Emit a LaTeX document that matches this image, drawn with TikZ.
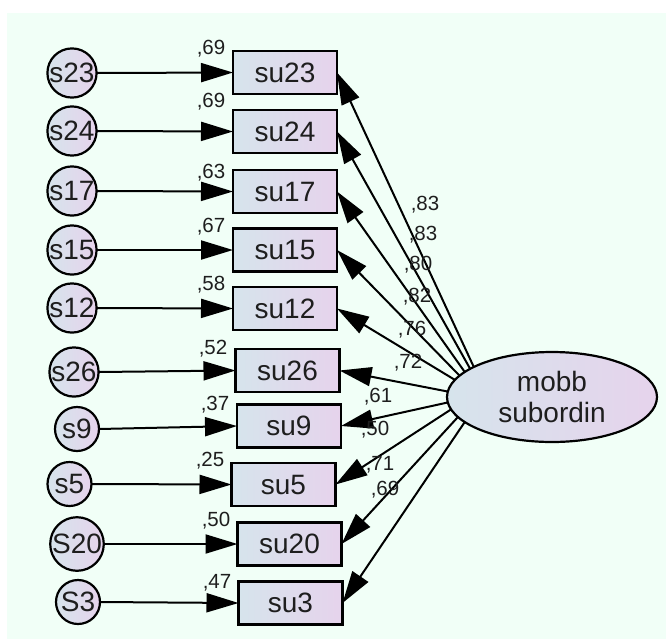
\documentclass[tikz,border=0pt]{standalone}
\usepackage{fontspec}
\setmainfont{Liberation Sans}
\usetikzlibrary{arrows.meta,shapes.geometric}
\definecolor{bgmint}{RGB}{241,255,247}
\definecolor{shA}{RGB}{214,228,236}
\definecolor{shB}{RGB}{230,211,236}
\definecolor{txt}{RGB}{30,30,30}
\begin{document}
\begin{tikzpicture}[x=1pt,y=-1pt,
  obs/.style={draw, line width=2.2pt, minimum width=104pt, minimum height=43pt, inner sep=0pt, outer sep=0pt,
    left color=shA, right color=shB, text=txt, font=\fontsize{28}{32}\selectfont},
  err/.style={draw, circle, line width=2.2pt, minimum size=44pt, inner sep=0pt, outer sep=0pt,
    left color=shA, right color=shB, text=txt, font=\fontsize{28}{32}\selectfont},
  lat/.style={draw, ellipse, line width=2.2pt, minimum width=210pt, minimum height=90pt, inner sep=0pt, outer sep=0pt,
    left color=shA, right color=shB, text=txt, align=center, font=\fontsize{28}{31}\selectfont},
  arr/.style={line width=2pt, -{Triangle[length=32pt,width=19pt]}},
  lab/.style={text=txt, inner sep=0pt, font=\fontsize{20.5}{22}\selectfont}]
\useasboundingbox (0,0) rectangle (667,641);
\fill[white] (0,0) rectangle (667,641);
\fill[bgmint] (7,13) rectangle (666,639);

% latent
\node[lat] (F) at (552,397) {mobb\\subordin};

% observed
\node[obs] (su23) at (285,72.5) {su23};
\node[obs] (su24) at (285,131.5) {su24};
\node[obs] (su17) at (285,191.5) {su17};
\node[obs] (su15) at (285,250) {su15};
\node[obs] (su12) at (285,308.5) {su12};
\node[obs] (su26) at (287.5,370.5) {su26};
\node[obs] (su9) at (289,426) {su9};
\node[obs] (su5) at (283.5,484.5) {su5};
\node[obs] (su20) at (289.5,544) {su20};
\node[obs] (su3) at (290.5,603) {su3};

% errors
\node[err] (s23) at (72,73) {s23};
\node[err] (s24) at (72,131) {s24};
\node[err] (s17) at (72,191) {s17};
\node[err] (s15) at (72,250) {s15};
\node[err] (s12) at (72,308) {s12};
\node[err] (s26) at (74,372) {s26};
\node[err] (s9) at (77,429) {s9};
\node[err] (s5) at (69.5,484) {s5};
\node[err] (S20) at (77,544) {S20};
\node[err] (S3) at (78,602) {S3};

% error arrows
\foreach \e/\o in {s23/su23,s24/su24,s17/su17,s15/su15,s12/su12,s26/su26,s9/su9,s5/su5,S20/su20,S3/su3}
  \draw[arr] (\e.east) -- (\o.west);

% loadings
\foreach \a/\o in {159/su23,161.5/su24,164/su17,167/su15,170.5/su12,177/su26,183/su9,187.5/su5,192/su20,196/su3}
  \draw[arr] (F.\a) -- (\o.east);

% squared multiple correlations
\node[lab] (r23) at (211,49) {,69};
\node[lab] (r24) at (211,102) {,69};
\node[lab] (r17) at (211,173) {,63};
\node[lab] (r15) at (211,227) {,67};
\node[lab] (r12) at (211,285) {,58};
\node[lab] (r26) at (213,349) {,52};
\node[lab] (r9) at (215,405) {,37};
\node[lab] (r5) at (210,461) {,25};
\node[lab] (r20) at (216,521) {,50};
\node[lab] (r3) at (217,583) {,47};

% loading labels
\node[lab] (l23) at (425,205) {,83};
\node[lab] (l24) at (423,235) {,83};
\node[lab] (l17) at (418,265) {,80};
\node[lab] (l15) at (417,297) {,82};
\node[lab] (l12) at (412,330) {,76};
\node[lab] (l26) at (408,363) {,72};
\node[lab] (l9) at (378,397) {,61};
\node[lab] (l5) at (375,430) {,50};
\node[lab] (l20) at (380,465) {,71};
\node[lab] (l3) at (385,490) {,69};
\end{tikzpicture}
\end{document}
